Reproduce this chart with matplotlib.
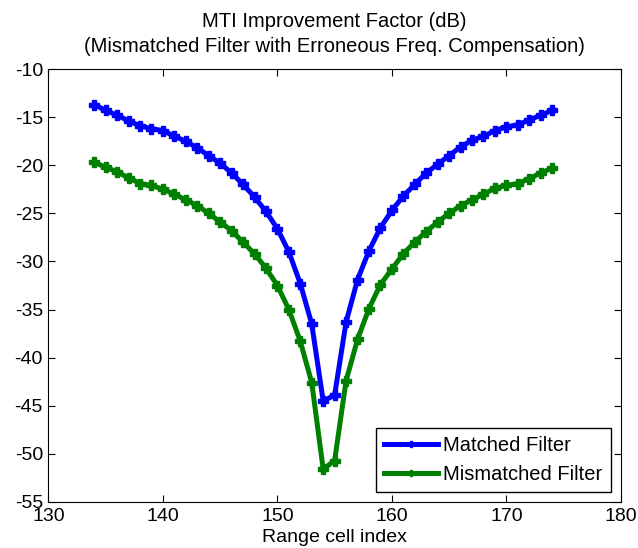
import numpy as np
import matplotlib.pyplot as plt

plt.rcParams['font.family'] = ['Liberation Sans', 'DejaVu Sans']
plt.rcParams['axes.unicode_minus'] = False

cells = np.arange(134, 175)

matched = [-13.7, -14.3, -14.8, -15.4, -15.9, -16.2, -16.4, -17.0, -17.5, -18.2,
           -19.0, -19.8, -20.8, -22.0, -23.3, -24.8, -26.6, -29.0, -32.3, -36.5,
           -44.5, -43.9, -36.3, -31.9, -28.9, -26.5, -24.7, -23.2, -22.0, -20.8,
           -19.9, -19.0, -18.1, -17.4, -17.0, -16.4, -16.0, -15.8, -15.3, -14.8,
           -14.3]

mismatched = [-19.7, -20.2, -20.7, -21.3, -21.9, -22.1, -22.5, -23.0, -23.6, -24.2,
              -25.0, -25.9, -26.8, -28.0, -29.2, -30.7, -32.5, -35.0, -38.3, -42.6,
              -51.6, -50.7, -42.4, -38.1, -34.9, -32.4, -30.8, -29.2, -28.0, -26.9,
              -25.9, -25.0, -24.2, -23.6, -23.0, -22.4, -22.1, -21.9, -21.4, -20.8,
              -20.3]

fig = plt.figure(figsize=(6.38, 5.48), dpi=100)
ax = fig.add_axes([0.076, 0.084, 0.897, 0.790])

ax.plot(cells, matched, color='#0000ff', lw=3.6, marker='P', ms=7.5,
        label='Matched Filter')
ax.plot(cells, mismatched, color='#008000', lw=3.6, marker='P', ms=7.5,
        label='Mismatched Filter')

ax.set_xlim(130, 180)
ax.set_ylim(-55, -10)
ax.set_xticks(np.arange(130, 181, 10))
ax.set_yticks(np.arange(-55, -9, 5))
ax.tick_params(direction='in', top=True, right=True, labelsize=14, length=5, pad=4)
ax.set_xlabel('Range cell index', fontsize=14, labelpad=3)
ax.set_title('MTI Improvement Factor (dB)\n(Mismatched Filter with Erroneous Freq. Compensation)',
             fontsize=14.5, pad=12, linespacing=1.45)

leg = ax.legend(loc='lower right', fontsize=14.5, fancybox=False, edgecolor='black',
                framealpha=1, borderaxespad=0.5, handlelength=2.7, handletextpad=0.25,
                borderpad=0.4, labelspacing=0.5, markerscale=0.6)
leg.get_frame().set_linewidth(1.0)

fig.savefig('out.png', dpi=100)
